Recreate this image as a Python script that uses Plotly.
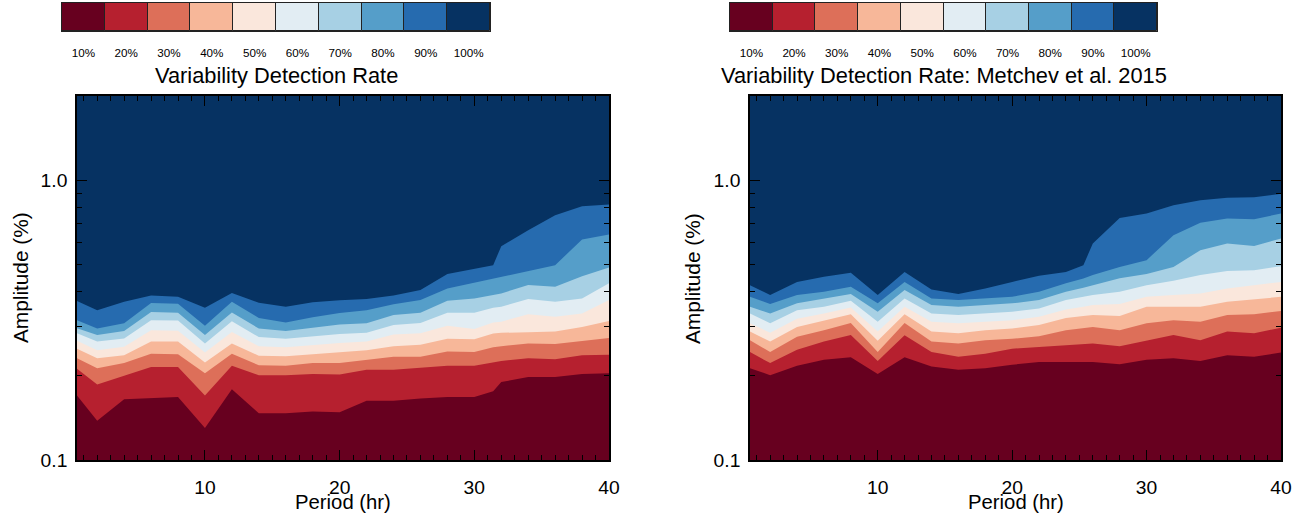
import plotly.graph_objects as go

# ---------------- data ----------------
rate_labels = ["10%", "20%", "30%", "40%", "50%", "60%", "70%", "80%", "90%", "100%"]
band_colors = ["#67001f", "#b6202f", "#dd6f59", "#f7b799", "#fae7dc",
               "#e2edf3", "#a7d0e4", "#559ec9", "#266baf", "#063262"]

amp_min = 0.1
amp_max = 2.0

# Left panel: boundaries between detection-rate bands (amplitude, %)
period_left = [0.5, 2, 4, 6, 8, 10, 12, 14, 16, 18, 20, 22, 24, 26, 28, 30, 31.4, 32, 34, 36, 38, 40]
left_b1 = [0.170, 0.138, 0.165, 0.167, 0.168, 0.130, 0.179, 0.147, 0.147, 0.149, 0.148, 0.163, 0.163, 0.166, 0.168, 0.168, 0.176, 0.190, 0.198, 0.198, 0.203, 0.204]
left_b2 = [0.212, 0.186, 0.200, 0.215, 0.215, 0.170, 0.217, 0.201, 0.201, 0.203, 0.202, 0.210, 0.210, 0.213, 0.217, 0.217, 0.224, 0.226, 0.231, 0.229, 0.237, 0.238]
left_b3 = [0.231, 0.213, 0.222, 0.240, 0.239, 0.204, 0.240, 0.218, 0.217, 0.222, 0.222, 0.228, 0.234, 0.234, 0.244, 0.243, 0.253, 0.255, 0.261, 0.260, 0.266, 0.273]
left_b4 = [0.250, 0.231, 0.237, 0.265, 0.265, 0.223, 0.261, 0.236, 0.235, 0.239, 0.243, 0.247, 0.255, 0.258, 0.271, 0.270, 0.283, 0.285, 0.286, 0.288, 0.299, 0.314]
left_b5 = [0.267, 0.247, 0.254, 0.291, 0.290, 0.242, 0.287, 0.255, 0.253, 0.258, 0.262, 0.265, 0.281, 0.284, 0.302, 0.294, 0.310, 0.312, 0.332, 0.325, 0.334, 0.373]
left_b6 = [0.284, 0.265, 0.272, 0.316, 0.315, 0.261, 0.313, 0.275, 0.271, 0.277, 0.282, 0.285, 0.304, 0.309, 0.336, 0.336, 0.350, 0.353, 0.376, 0.368, 0.378, 0.428]
left_b7 = [0.296, 0.280, 0.289, 0.338, 0.336, 0.280, 0.337, 0.295, 0.289, 0.297, 0.305, 0.308, 0.330, 0.336, 0.371, 0.378, 0.390, 0.394, 0.422, 0.416, 0.454, 0.488]
left_b8 = [0.316, 0.295, 0.308, 0.364, 0.362, 0.302, 0.368, 0.322, 0.310, 0.324, 0.335, 0.343, 0.360, 0.373, 0.410, 0.430, 0.446, 0.452, 0.474, 0.497, 0.614, 0.640]
left_b9 = [0.370, 0.343, 0.368, 0.387, 0.383, 0.350, 0.395, 0.365, 0.353, 0.366, 0.372, 0.376, 0.387, 0.405, 0.462, 0.481, 0.497, 0.581, 0.663, 0.750, 0.807, 0.819]

# Right panel (Metchev et al. 2015)
period_right = [0.5, 2, 4, 6, 8, 10, 12, 14, 16, 18, 20, 22, 24, 25.3, 26, 28, 30, 32, 34, 36, 38, 40]
right_b1 = [0.213, 0.201, 0.217, 0.228, 0.233, 0.203, 0.233, 0.216, 0.210, 0.213, 0.219, 0.224, 0.224, 0.224, 0.224, 0.220, 0.228, 0.231, 0.226, 0.237, 0.234, 0.242]
right_b2 = [0.243, 0.222, 0.248, 0.265, 0.280, 0.226, 0.279, 0.243, 0.234, 0.240, 0.250, 0.254, 0.258, 0.260, 0.261, 0.255, 0.268, 0.280, 0.268, 0.288, 0.284, 0.297]
right_b3 = [0.268, 0.243, 0.276, 0.291, 0.309, 0.243, 0.309, 0.265, 0.261, 0.268, 0.271, 0.277, 0.291, 0.295, 0.299, 0.291, 0.308, 0.316, 0.312, 0.330, 0.332, 0.341]
right_b4 = [0.288, 0.265, 0.299, 0.316, 0.332, 0.267, 0.332, 0.288, 0.284, 0.291, 0.295, 0.304, 0.322, 0.327, 0.330, 0.327, 0.353, 0.353, 0.353, 0.368, 0.376, 0.383]
right_b5 = [0.308, 0.285, 0.320, 0.334, 0.351, 0.288, 0.353, 0.312, 0.308, 0.312, 0.316, 0.325, 0.345, 0.353, 0.358, 0.361, 0.383, 0.389, 0.394, 0.410, 0.421, 0.433]
right_b6 = [0.334, 0.308, 0.343, 0.353, 0.371, 0.312, 0.378, 0.334, 0.330, 0.334, 0.339, 0.348, 0.373, 0.383, 0.389, 0.399, 0.421, 0.437, 0.458, 0.474, 0.477, 0.493]
right_b7 = [0.353, 0.334, 0.363, 0.378, 0.392, 0.339, 0.405, 0.358, 0.353, 0.358, 0.363, 0.373, 0.399, 0.413, 0.421, 0.446, 0.462, 0.490, 0.562, 0.594, 0.582, 0.619]
right_b8 = [0.383, 0.361, 0.389, 0.399, 0.416, 0.363, 0.433, 0.378, 0.373, 0.378, 0.383, 0.399, 0.428, 0.445, 0.458, 0.490, 0.518, 0.636, 0.704, 0.730, 0.726, 0.760]
right_b9 = [0.421, 0.389, 0.433, 0.452, 0.467, 0.389, 0.470, 0.407, 0.392, 0.410, 0.433, 0.456, 0.470, 0.497, 0.594, 0.733, 0.760, 0.814, 0.848, 0.866, 0.870, 0.894]

x_ticks = [10, 20, 30, 40]
y_ticks = [0.1, 1.0]
y_tick_text = ["0.1", "1.0"]
y_minor = [0.2, 0.3, 0.4, 0.5, 0.6, 0.7, 0.8, 0.9]

title_left = "Variability Detection Rate"
title_right = "Variability Detection Rate: Metchev et al. 2015"

# ---------------- figure ----------------
W, H = 1302, 515
# the photographed page comes out slightly reduced; lay out in that frame
W_EFF, H_EFF = 1291.0, 504.0
FS = 1.0 / 0.985          # font compensation for the same reduction
FONT = "Liberation Sans, Arial, Helvetica, sans-serif"

fig = go.Figure()


def add_panel(xs, bounds, xa, ya):
    # bounds: 9 boundary arrays, lowest first; bands drawn top-down, overlapping
    tops = bounds + [[amp_max] * len(xs)]
    for k in range(len(tops) - 1, -1, -1):
        top = tops[k]
        fig.add_trace(go.Scatter(
            x=list(xs) + list(xs)[::-1],
            y=list(top) + [amp_min] * len(xs),
            fill="toself", fillcolor=band_colors[k],
            mode="lines", line=dict(width=0, color=band_colors[k]),
            hoverinfo="skip", showlegend=False,
            xaxis=xa, yaxis=ya,
        ))


add_panel(period_left, [left_b1, left_b2, left_b3, left_b4, left_b5,
                        left_b6, left_b7, left_b8, left_b9], "x", "y")
add_panel(period_right, [right_b1, right_b2, right_b3, right_b4, right_b5,
                         right_b6, right_b7, right_b8, right_b9], "x2", "y2")

# colour keys drawn as bars
for xa, ya in (("x3", "y3"), ("x4", "y4")):
    fig.add_trace(go.Bar(
        x=list(range(len(rate_labels))), y=[1] * len(rate_labels), width=1,
        marker=dict(color=band_colors, line=dict(color="#222222", width=1)),
        hoverinfo="skip", showlegend=False, xaxis=xa, yaxis=ya,
    ))


def px(v):
    return min(1.0, v / W_EFF)


def py(v):
    return max(0.0, min(1.0, 1.0 - v / H_EFF))


common_x = dict(
    range=[0.5, 40], tickvals=x_ticks, ticks="inside", ticklen=10, tickwidth=1,
    tickcolor="black", showline=True, linecolor="black", linewidth=1.5,
    mirror="ticks", showgrid=False, zeroline=False,
    tickfont=dict(family=FONT, size=19 * FS, color="black"),
    minor=dict(dtick=1, ticks="inside", ticklen=5, tickcolor="black", tickwidth=1),
    ticklabelstandoff=9,
)
common_y = dict(
    type="log", range=[-1, 0.30103], tickvals=y_ticks, ticktext=y_tick_text,
    ticks="inside", ticklen=10, tickwidth=1, tickcolor="black",
    showline=True, linecolor="black", linewidth=1.5, mirror="ticks",
    showgrid=False, zeroline=False,
    tickfont=dict(family=FONT, size=19 * FS, color="black"),
    minor=dict(tickvals=y_minor, ticks="inside", ticklen=5, tickcolor="black", tickwidth=1),
    ticklabelstandoff=4,
)

key_x = dict(
    range=[-0.5, len(rate_labels) - 0.5], tickvals=list(range(len(rate_labels))),
    ticktext=rate_labels, ticks="outside", ticklen=11, tickcolor="rgba(0,0,0,0)",
    showline=True, linecolor="#222222", linewidth=1, mirror=True,
    showgrid=False, zeroline=False, fixedrange=True,
    tickfont=dict(family=FONT, size=11.5 * FS, color="black"),
)
key_y = dict(range=[0, 1], showticklabels=False, ticks="", showline=True,
             linecolor="#222222", linewidth=1, mirror=True, showgrid=False,
             zeroline=False, fixedrange=True)

fig.update_layout(
    autosize=True,
    margin=dict(l=0, r=0, t=0, b=0),
    paper_bgcolor="white", plot_bgcolor="white",
    bargap=0,
    xaxis=dict(domain=[px(77), px(609)], anchor="y", **common_x),
    yaxis=dict(domain=[py(460), py(96)], anchor="x", **common_y),
    xaxis2=dict(domain=[px(750), px(1281)], anchor="y2", **common_x),
    yaxis2=dict(domain=[py(460), py(96)], anchor="x2", **common_y),
    xaxis3=dict(domain=[px(62), px(490)], anchor="y3", **key_x),
    yaxis3=dict(domain=[py(31), py(3)], anchor="x3", **key_y),
    xaxis4=dict(domain=[px(730), px(1157)], anchor="y4", **key_x),
    yaxis4=dict(domain=[py(31), py(3)], anchor="x4", **key_y),
    showlegend=False,
)

ann_font = dict(family=FONT, color="black")
annotations = [
    dict(text=title_left, x=px(276), y=py(75), font=dict(size=21.5 * FS, **ann_font)),
    dict(text=title_right, x=px(943.5), y=py(75), font=dict(size=21.5 * FS, **ann_font)),
    dict(text="Period (hr)", x=px(343), y=py(502), font=dict(size=20 * FS, **ann_font)),
    dict(text="Period (hr)", x=px(1015.5), y=py(502), font=dict(size=20 * FS, **ann_font)),
    dict(text="Amplitude (%)", x=px(20), y=py(278), textangle=-90, font=dict(size=20.5 * FS, **ann_font)),
    dict(text="Amplitude (%)", x=px(692), y=py(278), textangle=-90, font=dict(size=20.5 * FS, **ann_font)),
]
for a in annotations:
    a.update(xref="paper", yref="paper", showarrow=False, xanchor="center", yanchor="middle")
fig.update_layout(annotations=annotations)

fig.write_html(
    "out.html",
    default_width="%dpx; position:absolute; left:0px; top:0px" % W,
    default_height="%dpx" % H,
    config={"displayModeBar": False},
)
